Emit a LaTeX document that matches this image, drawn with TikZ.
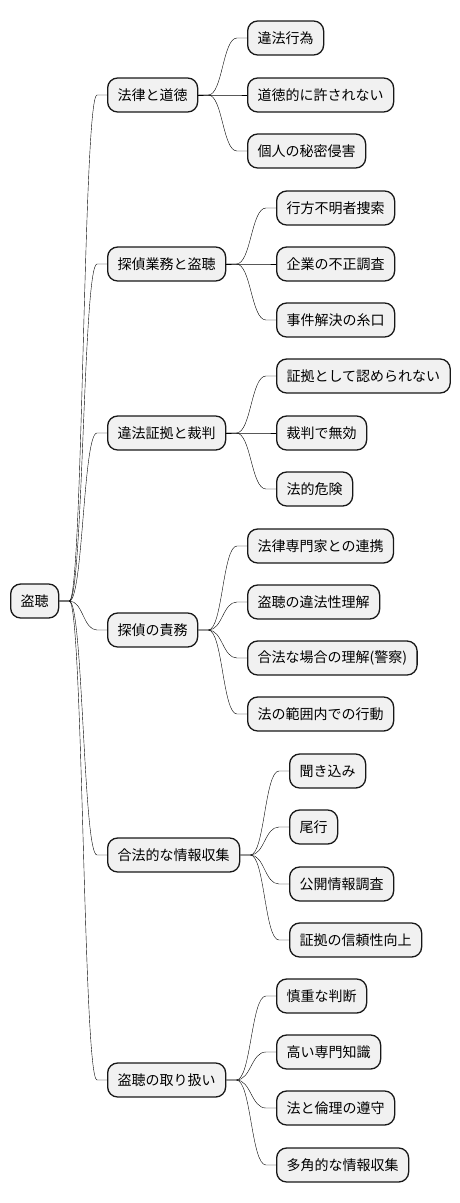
\documentclass[tikz,border=0pt]{standalone}
\usepackage{fontspec}
\setmainfont{Noto Sans CJK JP}
\usetikzlibrary{calc}
\definecolor{boxfill}{HTML}{F1F1F1}
\definecolor{boxline}{HTML}{181818}
\begin{document}
\begin{tikzpicture}[x=1pt, y=-1pt,
		topic/.style={draw=boxline, fill=boxfill, line width=1.3pt, rounded corners=10pt,
			minimum height=34pt, inner xsep=10pt, anchor=west, font=\fontsize{14pt}{16pt}\selectfont},
		branch/.style={draw=boxline, line width=0.8pt,
			to path={let \p1=(\tikztostart), \p2=(\tikztotarget) in
				-- (\x1+10pt,\y1)
				.. controls ({0.5*\x1+0.5*\x2},\y1) and ({0.5*\x1+0.5*\x2},\y2) .. (\x2-10pt,\y2)
				-- (\p2)}}]
		\useasboundingbox (0,0) rectangle (460,1203);
		
		% Root
		\node[topic] (root) at (10,601) {盗聴};
		
		% First level
		\node[topic] (law)   at (107,95)  {法律と道徳};
		\node[topic] (work)  at (107,264) {探偵業務と盗聴};
		\node[topic] (court) at (107,433) {違法証拠と裁判};
		\node[topic] (duty)  at (107,630) {探偵の責務};
		\node[topic] (legal) at (107,855) {合法的な情報収集};
		\node[topic] (care)  at (107,1080) {盗聴の取り扱い};
		
		% Law and morals
		\node[topic] (law1) at (247,38)  {違法行為};
		\node[topic] (law2) at (247,95)  {道徳的に許されない};
		\node[topic] (law3) at (247,151) {個人の秘密侵害};
		
		% Detective work
		\node[topic] (work1) at (276,208) {行方不明者捜索};
		\node[topic] (work2) at (276,264) {企業の不正調査};
		\node[topic] (work3) at (276,320) {事件解決の糸口};
		
		% Evidence in court
		\node[topic] (court1) at (276,376) {証拠として認められない};
		\node[topic] (court2) at (276,433) {裁判で無効};
		\node[topic] (court3) at (276,489) {法的危険};
		
		% Duties
		\node[topic] (duty1) at (247,546) {法律専門家との連携};
		\node[topic] (duty2) at (247,602) {盗聴の違法性理解};
		\node[topic] (duty3) at (247,658) {合法な場合の理解(警察)};
		\node[topic] (duty4) at (247,714) {法の範囲内での行動};
		
		% Lawful gathering
		\node[topic] (legal1) at (289,771) {聞き込み};
		\node[topic] (legal2) at (289,827) {尾行};
		\node[topic] (legal3) at (289,884) {公開情報調査};
		\node[topic] (legal4) at (289,940) {証拠の信頼性向上};
		
		% Handling
		\node[topic] (care1) at (276,996)  {慎重な判断};
		\node[topic] (care2) at (276,1052) {高い専門知識};
		\node[topic] (care3) at (276,1108) {法と倫理の遵守};
		\node[topic] (care4) at (276,1165) {多角的な情報収集};
		
		% Branches
		\foreach \c in {law,work,court,duty,legal,care}
			\draw (root.east) to[branch] (\c.west);
		\foreach \c in {law1,law2,law3}
			\draw (law.east) to[branch] (\c.west);
		\foreach \c in {work1,work2,work3}
			\draw (work.east) to[branch] (\c.west);
		\foreach \c in {court1,court2,court3}
			\draw (court.east) to[branch] (\c.west);
		\foreach \c in {duty1,duty2,duty3,duty4}
			\draw (duty.east) to[branch] (\c.west);
		\foreach \c in {legal1,legal2,legal3,legal4}
			\draw (legal.east) to[branch] (\c.west);
		\foreach \c in {care1,care2,care3,care4}
			\draw (care.east) to[branch] (\c.west);
	\end{tikzpicture}
\end{document}
